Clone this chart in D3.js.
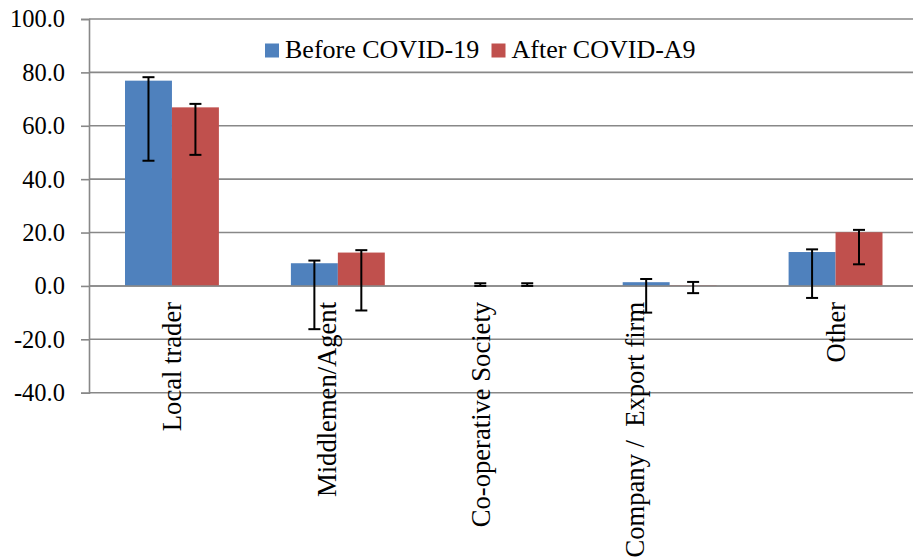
<!DOCTYPE html>
<html><head><meta charset="utf-8">
<script src="https://cdn.jsdelivr.net/npm/d3@7"></script>
<style>body{margin:0;background:#fff}svg{display:block}text{font-family:"Liberation Serif","Times New Roman",serif;fill:#000;white-space:pre}</style>
</head><body><svg id="c" width="913" height="557"></svg>
<script>
const categories = ["Local trader", "Middlemen/Agent\n", "Co-operative Society\n\n", "Company /  Export firm\n\n\n", "Other"];
const seriesNames = ["Before COVID-19", "After COVID-A9"];
const beforeValues = [76.9, 8.5, 0, 1.4, 12.7];
const afterValues  = [66.9, 12.5, 0, 0.2, 20.1];
const beforeUpper = [78.2, 9.5, 1.0, 2.6, 13.7];
const beforeLower = [46.9, -16.2, 0, -10.0, -4.5];
const afterUpper  = [68.2, 13.4, 1.0, 1.5, 21.0];
const afterLower  = [49.1, -9.2, 0, -2.7, 8.1];
const yTicks = [-40, -20, 0, 20, 40, 60, 80, 100];
const colors = ["#4F81BD", "#C0504D"];

(function () {
const svg = d3.select("#c");
const mLeft = 89, mRight = 918.5, mTop = 19, mBottom = 392.7;
const y = d3.scaleLinear().domain([-40, 100]).range([mBottom, mTop]);
const x = d3.scaleBand().domain(categories).range([mLeft, mRight]).paddingInner(0.434).paddingOuter(0.217);
const x1 = d3.scaleBand().domain(seriesNames).range([0, x.bandwidth()]);

// gridlines
svg.append("g").selectAll("line").data(yTicks).join("line")
  .attr("x1", mLeft).attr("x2", 913).attr("y1", d => y(d)).attr("y2", d => y(d))
  .attr("stroke", "#888").attr("stroke-width", 1.6);

// y axis
const yAxis = d3.axisLeft(y).tickValues(yTicks).tickSize(8).tickPadding(16).tickFormat(d => d.toFixed(1));
const ga = svg.append("g").attr("transform", `translate(${mLeft},0)`).call(yAxis)
  .attr("font-family", '"Liberation Serif", serif');
ga.select(".domain").attr("stroke", "#888").attr("stroke-width", 1.6);
ga.selectAll(".tick line").attr("stroke", "#888").attr("stroke-width", 1.6);
ga.selectAll(".tick text").style("font-family", '"Liberation Serif", serif').style("font-size", "24.5px").attr("fill", "#000");

const series = [
  {name: seriesNames[0], vals: beforeValues, up: beforeUpper, lo: beforeLower, color: colors[0]},
  {name: seriesNames[1], vals: afterValues, up: afterUpper, lo: afterLower, color: colors[1]}
];

series.forEach(s => {
  const g = svg.append("g");
  g.selectAll("rect").data(categories).join("rect")
    .attr("x", (c) => x(c) + x1(s.name))
    .attr("width", x1.bandwidth())
    .attr("y", (c, i) => y(Math.max(0, s.vals[i])))
    .attr("height", (c, i) => Math.abs(y(s.vals[i]) - y(0)))
    .attr("fill", s.color);
});

// zero axis line on top
svg.append("line").attr("x1", mLeft).attr("x2", 913).attr("y1", y(0)).attr("y2", y(0))
  .attr("stroke", "#888").attr("stroke-width", 1.6);

series.forEach(s => {
  const g = svg.append("g").attr("stroke", "#000").attr("stroke-width", 2);
  categories.forEach((c, i) => {
    const cx = x(c) + x1(s.name) + x1.bandwidth() / 2;
    g.append("line").attr("x1", cx).attr("x2", cx).attr("y1", y(s.up[i])).attr("y2", y(s.lo[i]));
    g.append("line").attr("x1", cx - 6).attr("x2", cx + 6).attr("y1", y(s.up[i])).attr("y2", y(s.up[i]));
    g.append("line").attr("x1", cx - 6).attr("x2", cx + 6).attr("y1", y(s.lo[i])).attr("y2", y(s.lo[i]));
  });
});

// category labels (rotated)
const lineH = 23;
categories.forEach(c => {
  const lines = c.split("\n");
  const cx = x(c) + x.bandwidth() / 2;
  const t = svg.append("text")
    .attr("transform", `translate(${cx},${y(0) + 16}) rotate(-90)`)
    .attr("text-anchor", "end")
    .attr("xml:space", "preserve")
    .style("font-size", "26.6px");
  const n = lines.length;
  lines.forEach((ln, k) => {
    t.append("tspan").attr("x", 0)
      .attr("y", (k - (n - 1) / 2) * lineH)
      .attr("dy", "0.35em")
      .text(ln === "" ? "\u00a0" : ln);
  });
});

// legend
const leg = svg.append("g");
const legX = [265, 491.5];
series.forEach((s, i) => {
  leg.append("rect").attr("x", legX[i]).attr("y", 43.5).attr("width", 14).attr("height", 14).attr("fill", s.color);
  leg.append("text").attr("x", legX[i] + 20).attr("y", 57.5).style("font-size", "26px").text(s.name);
});
})();
</script></body></html>
